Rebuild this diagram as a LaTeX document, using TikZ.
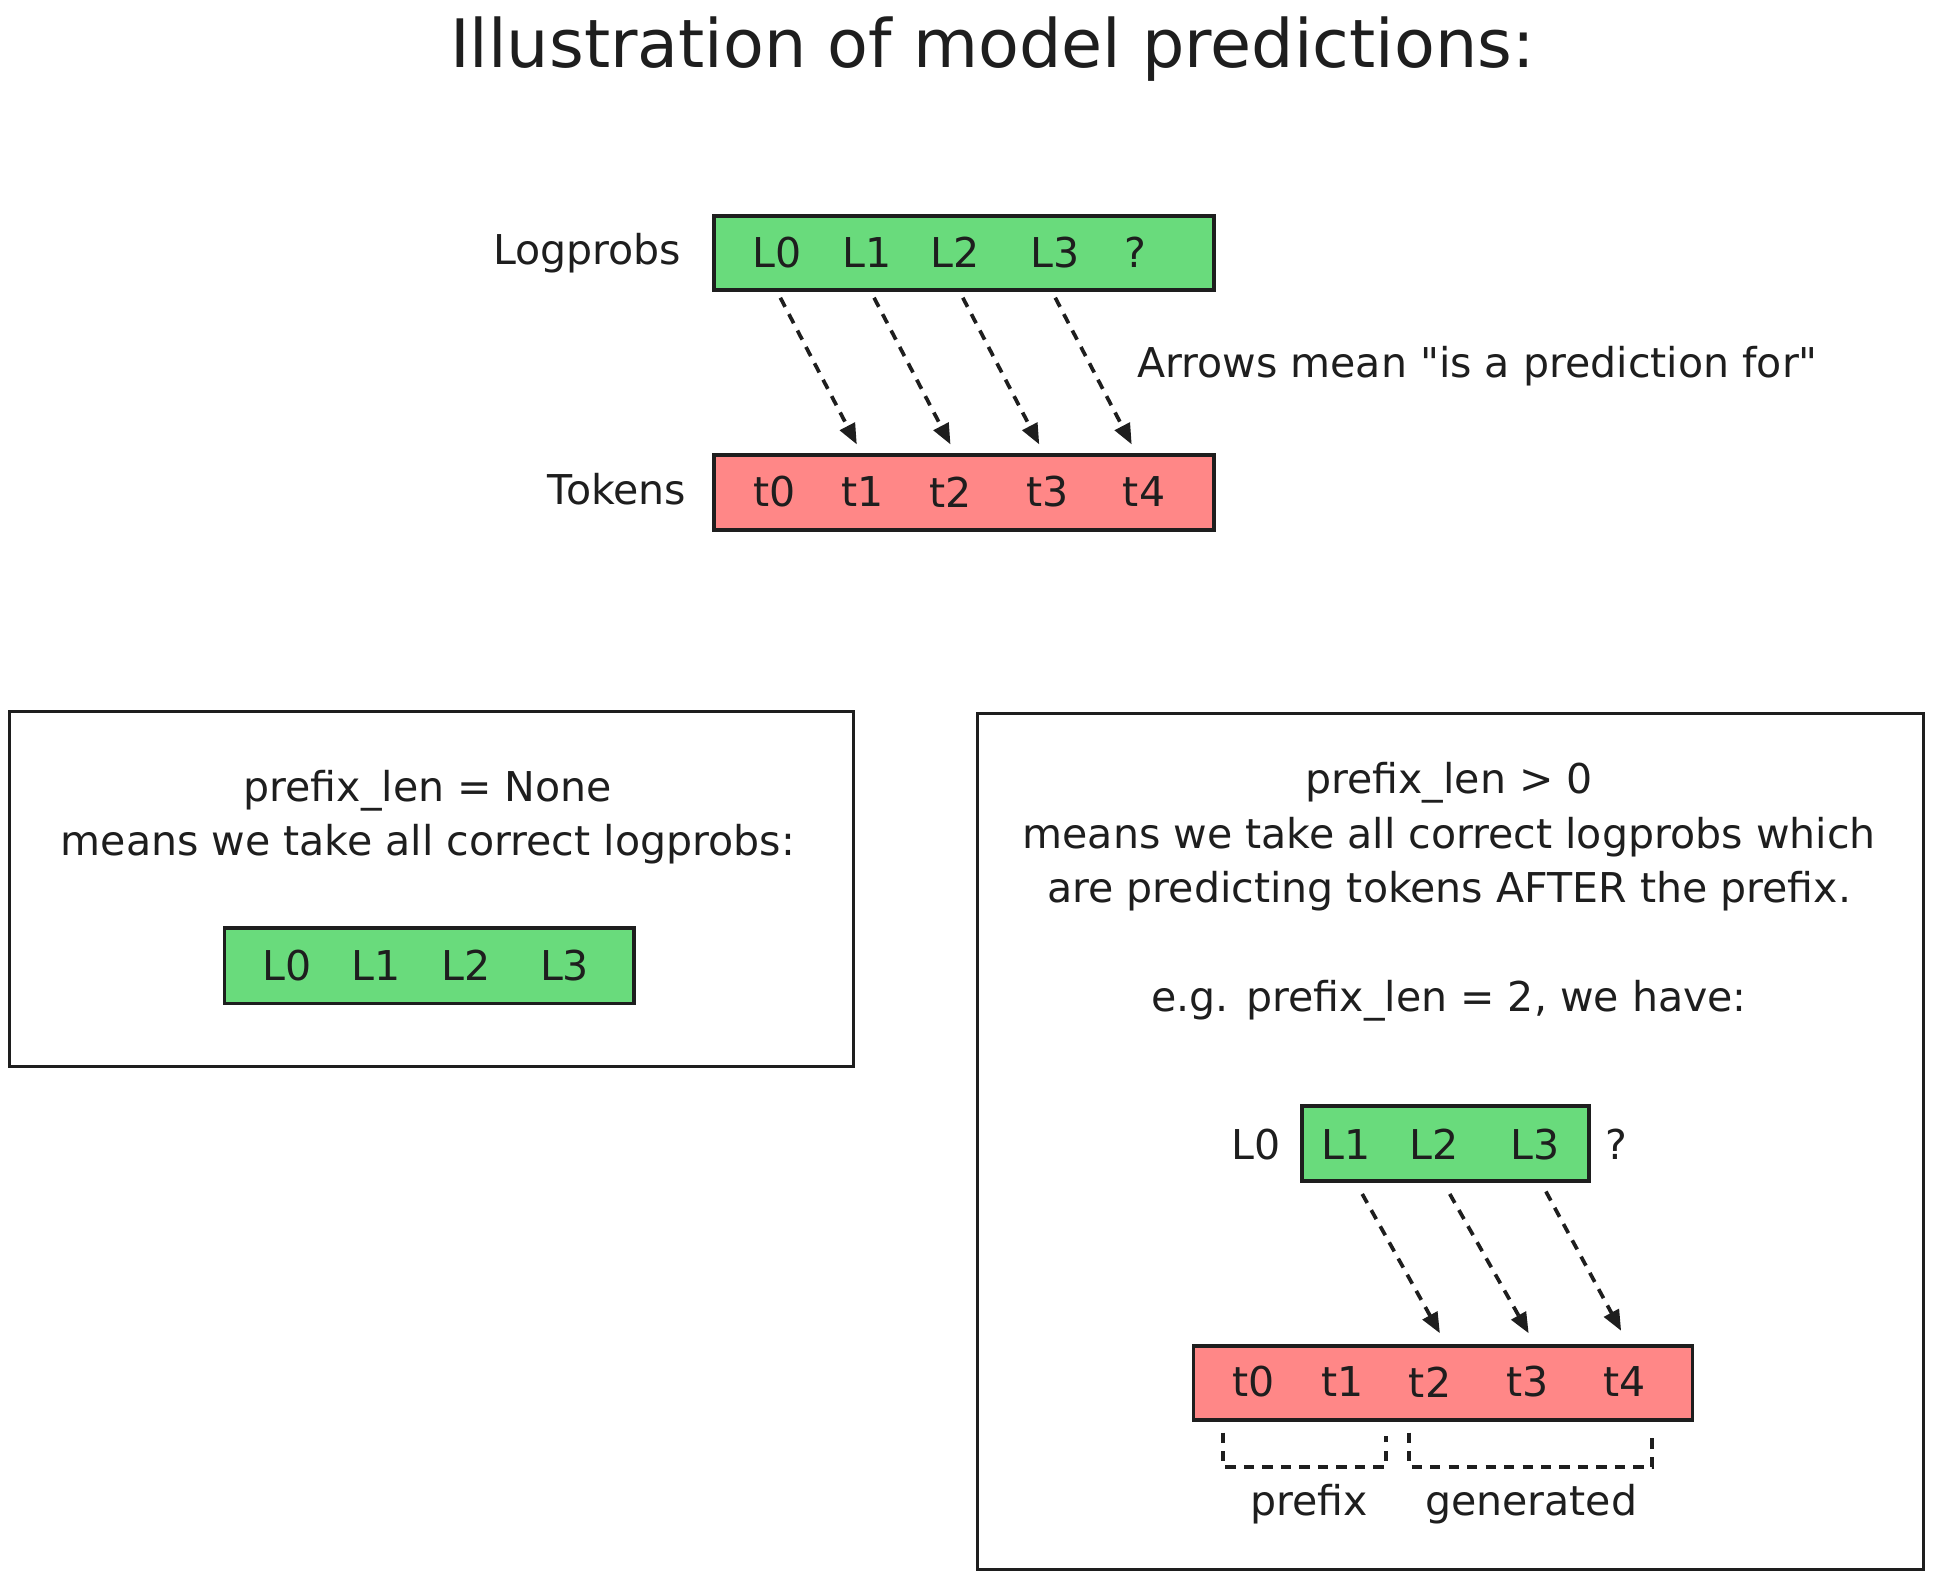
\documentclass[tikz,border=0pt]{standalone}
\usepackage{fontspec}
\setmainfont{DejaVu Sans}[Ligatures=TeXOff]
\usetikzlibrary{arrows.meta,calc}
\definecolor{ink}{HTML}{1E1E1E}
\definecolor{boxgreen}{HTML}{69DB7C}
\definecolor{boxred}{HTML}{FF8787}
\tikzset{
  txt/.style={font=\fontsize{20}{26.5}\selectfont, text=ink, inner sep=0pt, align=center},
  titletxt/.style={font=\fontsize{32.5}{38}\selectfont, text=ink, inner sep=0pt},
  greenbox/.style={draw=ink, fill=boxgreen, line width=1.8pt, inner sep=0pt},
  redbox/.style={draw=ink, fill=boxred, line width=1.8pt, inner sep=0pt},
  frame/.style={draw=ink, line width=1.5pt, inner sep=0pt},
  arr/.style={draw=ink, line width=1.8pt, dash pattern=on 5pt off 4pt, -{Triangle[length=10pt,width=8pt]}},
  brk/.style={draw=ink, line width=1.8pt, dash pattern=on 5pt off 4pt},
}
\begin{document}
\begin{tikzpicture}[x=0.6pt,y=-0.6pt]
\path[use as bounding box, fill=white] (0,0) rectangle (1568,1281);

% title
\node[titletxt] (title) at (805,40) {Illustration of model predictions:};

% top diagram
\node[greenbox, minimum width=243.6pt, minimum height=36pt] (lp) at (782,205) {};
\node[redbox, minimum width=243.6pt, minimum height=36.6pt] (tk) at (782,399.5) {};
\node[txt, anchor=east] (lplabel) at (553,205) {Logprobs};
\node[txt, anchor=east] (tklabel) at (557,397) {Tokens};
\node[txt] (a0) at (630,205) {L0};
\node[txt] (a1) at (703,205) {L1};
\node[txt] (a2) at (775,205) {L2};
\node[txt] (a3) at (856,205) {L3};
\node[txt] (aq) at (921,205) {?};
\node[txt] (b0) at (628,399) {t0};
\node[txt] (b1) at (700,399) {t1};
\node[txt] (b2) at (771,399) {t2};
\node[txt] (b3) at (850,399) {t3};
\node[txt] (b4) at (928,399) {t4};
\draw[arr] ($(a0 |- lp.south)+(3,5)$) -- ($(b1 |- tk.north)+(-5,-7)$);
\draw[arr] ($(a1 |- lp.south)+(6,5)$) -- ($(b2 |- tk.north)+(0,-7)$);
\draw[arr] ($(a2 |- lp.south)+(6,5)$) -- ($(b3 |- tk.north)+(-7,-7)$);
\draw[arr] ($(a3 |- lp.south)+(0,5)$) -- ($(b4 |- tk.north)+(-10,-7)$);
\node[txt, anchor=west] (meaning) at (922,297) {Arrows mean "is a prediction for"};

% left panel
\node[frame, minimum width=410.4pt, minimum height=172.8pt] (leftframe) at (350,721) {};
\node[txt] (lefttext) at (347,663) {prefix\_len = None\\means we take all correct logprobs:};
\node[greenbox, minimum width=199.2pt, minimum height=36.6pt] (lgreen) at (348,783.5) {};
\node[txt] (c0) at (233,783) {L0};
\node[txt] (c1) at (305,783) {L1};
\node[txt] (c2) at (378,783) {L2};
\node[txt] (c3) at (458,783) {L3};

% right panel
\node[frame, minimum width=460.2pt, minimum height=416.4pt] (rightframe) at (1176.5,926) {};
\node[txt] (righttext) at (1175.5,723.5) {prefix\_len > 0\\means we take all correct logprobs which\\are predicting tokens AFTER the prefix.\\[26.5pt]e.g. prefix\_len = 2, we have:};
\node[greenbox, minimum width=139.8pt, minimum height=36.6pt] (rgreen) at (1172.5,927.5) {};
\node[redbox, minimum width=243pt, minimum height=36pt] (rred) at (1170.5,1122) {};
\node[txt] (d0) at (1019,928) {L0};
\node[txt] (d1) at (1092,928) {L1};
\node[txt] (d2) at (1163,928) {L2};
\node[txt] (d3) at (1245,928) {L3};
\node[txt] (dq) at (1311,928) {?};
\node[txt] (e0) at (1017,1121) {t0};
\node[txt] (e1) at (1089,1121) {t1};
\node[txt] (e2) at (1160,1121) {t2};
\node[txt] (e3) at (1239,1121) {t3};
\node[txt] (e4) at (1318,1121) {t4};
\draw[arr] ($(d1 |- rgreen.south)+(13,9)$) -- ($(e2 |- rred.north)+(8,-9)$);
\draw[arr] ($(d2 |- rgreen.south)+(13,9)$) -- ($(e3 |- rred.north)+(1,-9)$);
\draw[arr] ($(d3 |- rgreen.south)+(9,7)$) -- ($(e4 |- rred.north)+(-3,-11)$);

% brackets
\coordinate (p1) at (992,1162);
\coordinate (p2) at (992,1190);
\coordinate (p3) at (1124,1190);
\coordinate (p4) at (1124,1165);
\coordinate (g1) at (1143,1162);
\coordinate (g2) at (1143,1190);
\coordinate (g3) at (1340,1190);
\coordinate (g4) at (1340,1165);
\draw[brk] (p1) -- (p2) -- (p3) -- (p4);
\draw[brk] (g1) -- (g2) -- (g3) -- (g4);
\node[txt] (prefixlabel) at (1062,1220) {prefix};
\node[txt] (genlabel) at (1242,1220) {generated};
\end{tikzpicture}
\end{document}
